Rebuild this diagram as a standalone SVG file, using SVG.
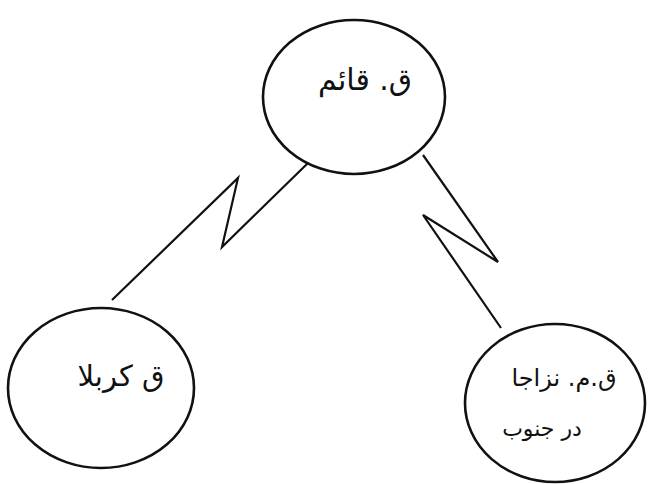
<svg xmlns="http://www.w3.org/2000/svg" width="649" height="484" viewBox="0 0 649 484">
<style>
.node{fill:#fff;stroke:#111;stroke-width:2.6}
.conn{fill:none;stroke:#111;stroke-width:2.2;stroke-linejoin:miter}
.lbl{font-family:"DejaVu Sans","Noto Sans",sans-serif;fill:#111;text-anchor:middle}
</style>
<rect width="649" height="484" fill="#fff"/>
<g id="connectors">
<polyline class="conn" points="308,163 222,247 238,178 112,300"/>
<polyline class="conn" points="423,155 498,262 423,215 501,328"/>
</g>
<g id="node-qaem">
<ellipse class="node" cx="354" cy="97" rx="91" ry="77"/>
<text class="lbl" x="365" y="90" font-size="30" direction="rtl">ق. قائم</text>
</g>
<g id="node-karbala">
<ellipse class="node" cx="101" cy="388" rx="93" ry="80"/>
<text class="lbl" x="121" y="386" font-size="29" direction="rtl">ق کربلا</text>
</g>
<g id="node-nezaja">
<ellipse class="node" cx="555" cy="403" rx="90" ry="79"/>
<text class="lbl" x="564" y="386" font-size="24" direction="rtl">ق.م. نزاجا</text>
<text class="lbl" x="542" y="436" font-size="22" direction="rtl">در جنوب</text>
</g>
</svg>
